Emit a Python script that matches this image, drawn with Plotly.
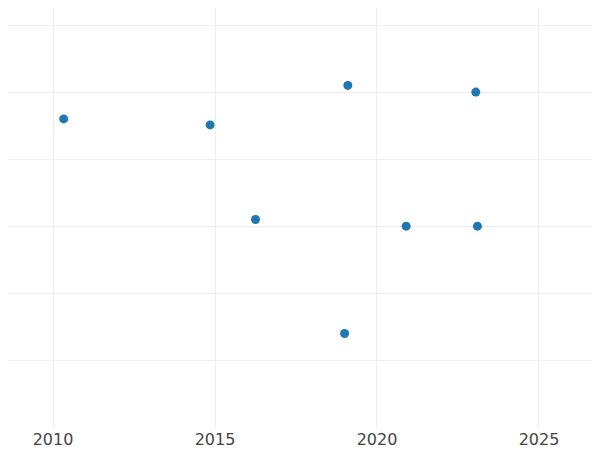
import plotly.graph_objects as go

years = [2010.33, 2014.85, 2019.1, 2023.05, 2016.25, 2020.9, 2023.1, 2019.0]
values = [1.6, 1.51, 2.1, 2.0, 0.1, 0.0, 0.0, -1.6]

fig = go.Figure(go.Scatter(x=years, y=values, mode="markers",
                           marker=dict(color="#1f77b4", size=9)))
fig.update_layout(
    width=600, height=450, margin=dict(l=0, r=0, t=0, b=30),
    plot_bgcolor="white", paper_bgcolor="white", showlegend=False,
    font=dict(family="DejaVu Sans", size=16, color="#444"),
)
fig.update_xaxes(range=[2008.611, 2027.13], dtick=5, tick0=2010,
                 gridcolor="#ededed", gridwidth=1, zeroline=False,
                 showline=False, ticks="")
fig.update_yaxes(range=[-3.01, 3.254], dtick=1, showticklabels=False,
                 gridcolor="#eeeeee", gridwidth=1, zeroline=False, showline=False)
fig.write_html("out.html")
